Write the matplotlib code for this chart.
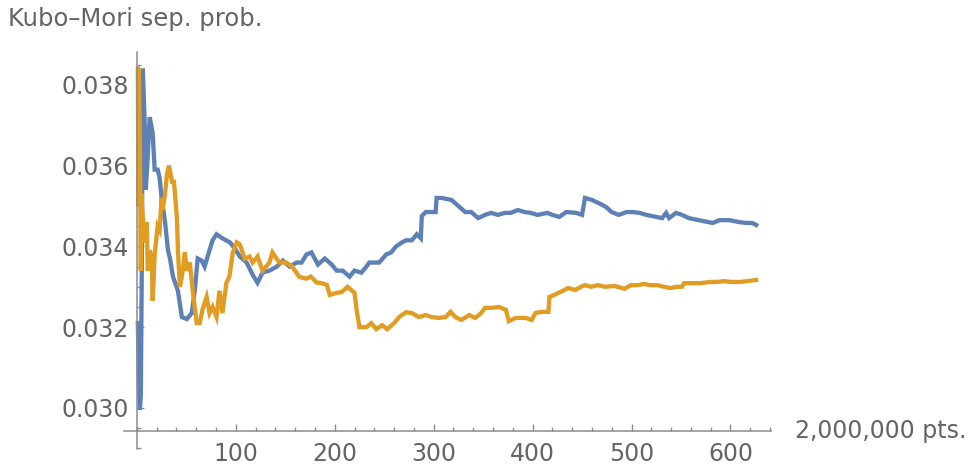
import matplotlib
matplotlib.use('Agg')
import matplotlib.pyplot as plt
from matplotlib.ticker import MultipleLocator, FixedLocator, FormatStrFormatter

# x positions are in units of 2,000,000 points
x_blue = [1, 2, 3, 4, 5, 6, 8, 9, 10.5, 13, 16, 18, 21, 23, 25, 28.5, 31.5, 33.5, 36.5, 41.5,
          45.5, 50.5, 55.5, 58.5, 61.5, 65.5, 68.5, 71.5, 76.5, 80.5, 86.5, 94, 99, 104, 111, 117,
          122, 127, 134, 141.5, 147.5, 154.5, 161.5, 166.5, 171.5, 176.5, 183, 190, 197, 202, 208,
          215, 220, 227, 232, 235, 240, 245, 252, 257, 262, 268, 272, 278, 283, 287, 288, 292, 297,
          302, 303, 308, 318, 325, 332, 338, 345, 352, 358, 365, 372, 378, 385, 392, 398, 405, 415,
          420, 427, 434, 444, 450, 453, 460, 467, 474, 480, 487, 495, 501, 508, 515, 525, 531, 535,
          538, 545, 551, 558, 568, 578, 582, 589, 599, 609, 616, 622, 626]
sep_blue = [0.03210, 0.03060, 0.02995, 0.03030, 0.03350, 0.03840, 0.03700, 0.03540, 0.03600, 0.03720,
            0.03680, 0.03590, 0.03590, 0.03570, 0.03520, 0.03460, 0.03390, 0.03370, 0.03325, 0.03290,
            0.03225, 0.03220, 0.03235, 0.03290, 0.03370, 0.03365, 0.03350, 0.03375, 0.03415, 0.03430,
            0.03420, 0.03410, 0.03395, 0.03375, 0.03360, 0.03330, 0.03310, 0.03335, 0.03340, 0.03350,
            0.03365, 0.03350, 0.03360, 0.03360, 0.03380, 0.03385, 0.03355, 0.03370, 0.03355, 0.03340,
            0.03340, 0.03325, 0.03340, 0.03335, 0.03350, 0.03360, 0.03360, 0.03360, 0.03380, 0.03385,
            0.03400, 0.03410, 0.03415, 0.03415, 0.03430, 0.03420, 0.03475, 0.03485, 0.03485, 0.03485,
            0.03520, 0.03520, 0.03515, 0.03500, 0.03485, 0.03485, 0.03470, 0.03478, 0.03483, 0.03478,
            0.03483, 0.03483, 0.03490, 0.03485, 0.03483, 0.03478, 0.03483, 0.03478, 0.03473, 0.03485,
            0.03483, 0.03478, 0.03520, 0.03515, 0.03507, 0.03498, 0.03485, 0.03478, 0.03485, 0.03485,
            0.03483, 0.03478, 0.03473, 0.03470, 0.03483, 0.03470, 0.03483, 0.03478, 0.03470, 0.03465,
            0.03460, 0.03458, 0.03465, 0.03465, 0.03460, 0.03458, 0.03458, 0.03453]

x_orange = [1, 1.5, 2, 3, 4, 4.5, 6, 8, 10, 11, 13, 15, 16, 18, 21, 23, 25, 26, 28.5, 30.5,
            32.5, 35.5, 37.5, 40.5, 41.5, 43.5, 45.5, 48.5, 50.5, 53.5, 56.5, 60.5, 63.5, 66.5, 70.5,
            73.5, 76.5, 80.5, 83.5, 86.5, 90.5, 93.5, 97, 101, 104, 109, 114, 117, 122, 127, 134, 137,
            144, 151, 157, 164, 171, 176, 182, 185, 192, 195, 202, 207, 213, 220, 222, 225, 232, 237,
            242, 248, 253, 260, 265, 272, 278, 285, 292, 298, 305, 312, 317, 322, 328, 336, 342, 348,
            352, 359, 366, 373, 376, 383, 393, 399, 403, 409, 416, 417, 422, 428, 436, 443, 449, 453,
            459, 466, 473, 483, 493, 499, 506, 513, 519, 526, 533, 539, 546, 551, 553, 559, 569, 580,
            587, 594, 600, 610, 617, 626]
sep_orange = [0.03840, 0.03500, 0.03840, 0.03660, 0.03340, 0.03530, 0.03470, 0.03410, 0.03460, 0.03340,
              0.03390, 0.03370, 0.03265, 0.03380, 0.03450, 0.03440, 0.03520, 0.03490, 0.03530, 0.03580,
              0.03600, 0.03560, 0.03560, 0.03470, 0.03390, 0.03300, 0.03325, 0.03385, 0.03340, 0.03360,
              0.03290, 0.03210, 0.03210, 0.03245, 0.03275, 0.03235, 0.03250, 0.03225, 0.03290, 0.03235,
              0.03310, 0.03325, 0.03385, 0.03410, 0.03405, 0.03370, 0.03375, 0.03360, 0.03375, 0.03340,
              0.03360, 0.03385, 0.03360, 0.03360, 0.03350, 0.03325, 0.03320, 0.03325, 0.03310, 0.03310,
              0.03305, 0.03280, 0.03285, 0.03287, 0.03300, 0.03285, 0.03245, 0.03200, 0.03200, 0.03210,
              0.03195, 0.03205, 0.03195, 0.03210, 0.03225, 0.03237, 0.03235, 0.03225, 0.03230, 0.03225,
              0.03223, 0.03225, 0.03238, 0.03225, 0.03218, 0.03230, 0.03223, 0.03235, 0.03248, 0.03248,
              0.03250, 0.03243, 0.03215, 0.03223, 0.03223, 0.03218, 0.03235, 0.03238, 0.03238, 0.03275,
              0.03280, 0.03287, 0.03297, 0.03292, 0.03300, 0.03304, 0.03300, 0.03304, 0.03300, 0.03302,
              0.03295, 0.03304, 0.03304, 0.03307, 0.03304, 0.03304, 0.03300, 0.03297, 0.03300, 0.03300,
              0.03309, 0.03309, 0.03309, 0.03312, 0.03312, 0.03314, 0.03312, 0.03312, 0.03314, 0.03317]

x_major_ticks = [100, 200, 300, 400, 500, 600]
y_major_ticks = [0.030, 0.032, 0.034, 0.036, 0.038]

axis_gray = '#8c8c8c'
text_gray = '#646464'

fig = plt.figure(figsize=(9.68, 4.68), dpi=100)
ax = fig.add_axes([0.1281, 0.0406, 0.6684, 0.8489])

ax.plot(x_blue, sep_blue, color='#5E81B5', lw=3.1, solid_joinstyle='miter')
ax.plot(x_orange, sep_orange, color='#E19C24', lw=3.1, solid_joinstyle='miter')

ax.set_xlim(-13, 641)
ax.set_ylim(0.028985, 0.038819)

# Mathematica-style axes crossing inside the plot range
ax.spines['left'].set_position(('data', 0))
ax.spines['bottom'].set_position(('data', 0.029438))
ax.spines['top'].set_visible(False)
ax.spines['right'].set_visible(False)
for side in ['left', 'bottom']:
    ax.spines[side].set_color(axis_gray)
    ax.spines[side].set_linewidth(1.1)

ax.xaxis.set_major_locator(FixedLocator(x_major_ticks))
ax.xaxis.set_minor_locator(MultipleLocator(20))
ax.yaxis.set_major_locator(FixedLocator(y_major_ticks))
ax.yaxis.set_minor_locator(MultipleLocator(0.0005))
ax.yaxis.set_major_formatter(FormatStrFormatter('%.3f'))

ax.tick_params(which='both', direction='in', color=axis_gray, width=1.0)
ax.tick_params(which='major', length=5)
ax.tick_params(which='minor', length=3)
ax.tick_params(axis='x', which='major', pad=8, labelsize=17, labelcolor=text_gray)
ax.tick_params(axis='y', which='major', pad=6, labelsize=17, labelcolor=text_gray)

fig.text(0.008, 0.96, 'Kubo\u2013Mori sep. prob.', fontsize=17.5, color=text_gray, va='center', ha='left')
fig.text(0.821, 1 - 431 / 468, '2,000,000 pts.', fontsize=17, color=text_gray, va='center', ha='left')

fig.savefig('out.png', dpi=100)
